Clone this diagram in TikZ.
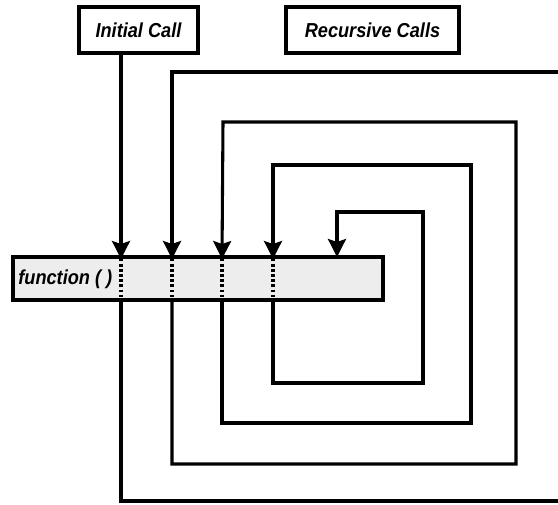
\documentclass[tikz,border=0pt]{standalone}
\usepackage{fontspec}
\setmainfont{Liberation Sans}[FakeStretch=0.9]
\usetikzlibrary{arrows.meta}
\begin{document}
\begin{tikzpicture}[x=0.02cm, y=-0.02cm, >={Stealth[length=3.6mm, width=3.6mm, inset=0.6mm]},
    wire/.style={line width=1.75pt, line join=miter},
    callbox/.style={draw, line width=1.9pt, minimum height=0.92cm, inner sep=0pt,
      font=\fontsize{11.5}{13}\selectfont\bfseries\itshape},
    frame/.style={draw, line width=1.9pt, fill=black!7, minimum width=7.4cm, minimum height=0.86cm, inner sep=0pt},
    dots/.style={line width=2pt, dash pattern=on 1.4pt off 1.5pt}]
  \useasboundingbox (0,0) rectangle (558,504);
  \clip (0,0) rectangle (558,504);
  % labels on top
  \node[callbox, minimum width=2.38cm] (init) at (138.5,30) {Initial Call};
  \node[callbox, minimum width=3.46cm] (rec) at (372.5,30) {Recursive Calls};
  % the function bar
  \node[frame] (bar) at (198,278.5) {};
  \node[anchor=west, inner sep=0pt, font=\fontsize{11.5}{13}\selectfont\bfseries\itshape] (fname) at (18,279) {function ( )};
  \foreach \n/\x in {1/121, 2/172, 3/222, 4/273} {
    \coordinate (in\n) at (\x,259);
    \coordinate (out\n) at (\x,299);
    \draw[dots] (in\n) -- (out\n);
  }
  \coordinate (in5) at (337,257);
  % calls
  \draw[wire, ->] (init.south -| in1) -- (in1);
  \draw[wire, ->] (out1) |- (580,501) (580,72) -| (in2);
  \draw[wire, ->] (out2) |- (516,464) |- (223,122) -- (in3);
  \draw[wire, ->] (out3) |- (471,423) |- (273,165) -- (in4);
  \draw[wire, ->] (out4) |- (423,383) |- (337,212) -- (in5);
\end{tikzpicture}
\end{document}
